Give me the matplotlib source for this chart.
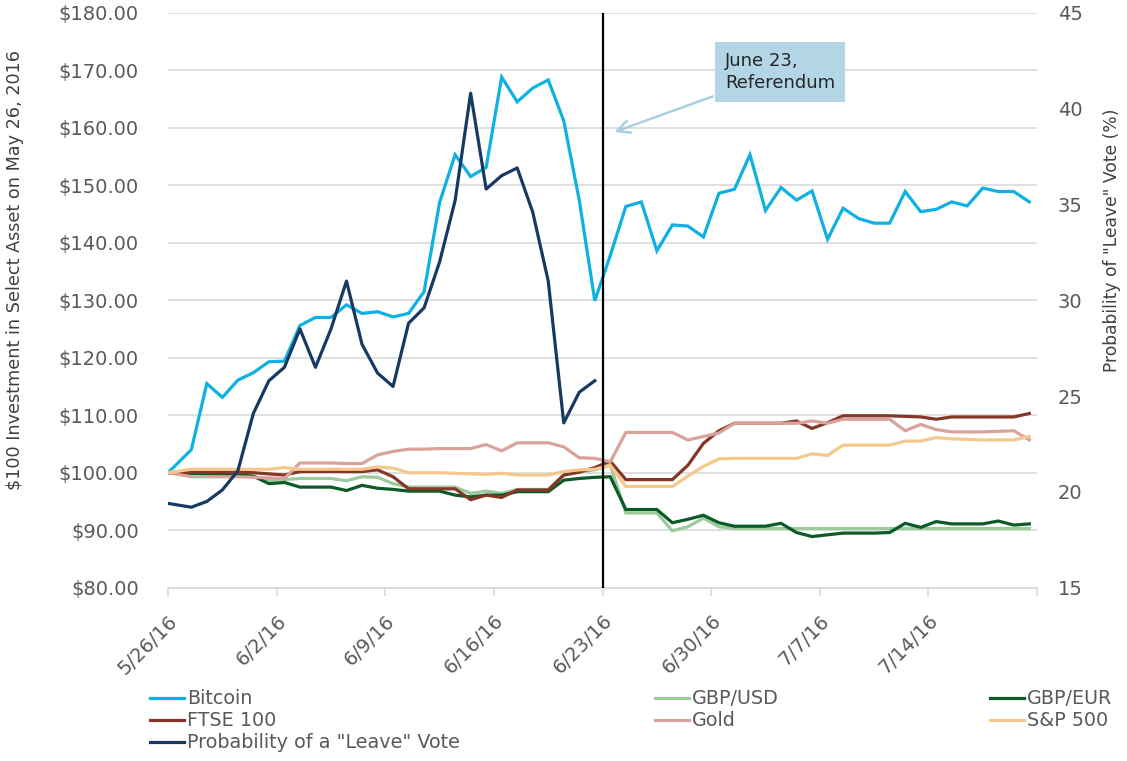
import numpy as np
import matplotlib
matplotlib.use('Agg')
import matplotlib.pyplot as plt

# x positions in days after 5/26/16 (first point on 5/26, then mid-day points)
days = np.array([0.0] + list(np.arange(1.5, 56.0, 1.0)))

tick_days = [0, 7, 14, 21, 28, 35, 42, 49, 56]
tick_labels = ['5/26/16', '6/2/16', '6/9/16', '6/16/16', '6/23/16',
               '6/30/16', '7/7/16', '7/14/16', '']

bitcoin = [100.0, 104.0, 115.5, 113.1, 116.1, 117.4, 119.3, 119.4, 125.6, 127.0,
           127.0, 129.2, 127.7, 128.0, 127.1, 127.7, 131.5, 147.0, 155.3, 151.5,
           153.1, 168.8, 164.5, 166.9, 168.3, 161.2, 147.4, 129.9, 137.8, 146.3,
           147.1, 138.6, 143.1, 142.9, 141.0, 148.6, 149.3, 155.3, 145.6, 149.6,
           147.4, 149.0, 140.6, 146.0, 144.2, 143.4, 143.4, 148.9, 145.4, 145.8,
           147.1, 146.4, 149.5, 148.9, 148.9, 147.1]

gbp_usd = [100.0, 99.9, 99.8, 99.7, 99.6, 99.4, 98.7, 98.8, 99.0, 99.0,
           99.0, 98.6, 99.3, 99.2, 98.1, 97.5, 97.5, 97.5, 97.5, 96.4,
           96.8, 96.4, 97.1, 97.1, 97.1, 99.6, 100.1, 100.5, 101.4, 93.0,
           93.0, 93.0, 89.9, 90.6, 92.1, 90.6, 90.3, 90.3, 90.3, 90.3,
           90.3, 90.3, 90.3, 90.3, 90.3, 90.3, 90.3, 90.3, 90.3, 90.3,
           90.3, 90.3, 90.3, 90.3, 90.3, 90.3]

gbp_eur = [100.0, 99.9, 99.8, 99.7, 99.6, 99.4, 98.1, 98.3, 97.5, 97.5,
           97.5, 96.9, 97.8, 97.3, 97.1, 96.8, 96.8, 96.8, 96.1, 95.8,
           96.1, 96.1, 96.7, 96.7, 96.7, 98.7, 99.0, 99.2, 99.3, 93.6,
           93.6, 93.6, 91.3, 91.9, 92.6, 91.3, 90.7, 90.7, 90.7, 91.2,
           89.6, 88.9, 89.2, 89.5, 89.5, 89.5, 89.6, 91.2, 90.5, 91.5,
           91.1, 91.1, 91.1, 91.6, 90.9, 91.1]

ftse = [100.0, 100.1, 100.1, 100.1, 100.1, 100.0, 99.8, 99.6, 100.2, 100.2,
        100.2, 100.2, 100.2, 100.5, 99.3, 97.2, 97.2, 97.2, 97.2, 95.3,
        96.1, 95.7, 97.0, 97.0, 97.0, 99.6, 100.1, 100.9, 102.0, 98.8,
        98.8, 98.8, 98.8, 101.3, 105.1, 107.3, 108.6, 108.6, 108.6, 108.6,
        109.0, 107.7, 108.7, 109.9, 109.9, 109.9, 109.9, 109.8, 109.7, 109.3,
        109.7, 109.7, 109.7, 109.7, 109.7, 110.3]

gold = [100.0, 99.3, 99.3, 99.3, 99.3, 99.2, 99.1, 99.0, 101.7, 101.7,
        101.7, 101.6, 101.6, 103.1, 103.7, 104.1, 104.1, 104.2, 104.2, 104.2,
        104.9, 103.8, 105.2, 105.2, 105.2, 104.5, 102.6, 102.5, 101.9, 107.0,
        107.0, 107.0, 107.0, 105.7, 106.3, 106.9, 108.6, 108.6, 108.6, 108.6,
        108.6, 109.0, 108.6, 109.3, 109.3, 109.3, 109.3, 107.3, 108.4, 107.5,
        107.1, 107.1, 107.1, 107.2, 107.3, 105.7]

sp500 = [100.0, 100.6, 100.6, 100.6, 100.6, 100.6, 100.6, 100.9, 100.6, 100.6,
         100.6, 100.6, 100.6, 101.0, 100.8, 100.0, 100.0, 100.0, 99.9, 99.8,
         99.7, 99.9, 99.6, 99.6, 99.6, 100.2, 100.5, 100.6, 101.3, 97.6,
         97.6, 97.6, 97.6, 99.4, 101.1, 102.4, 102.5, 102.5, 102.5, 102.5,
         102.5, 103.3, 103.0, 104.8, 104.8, 104.8, 104.8, 105.5, 105.5, 106.1,
         105.9, 105.8, 105.7, 105.7, 105.7, 106.3]

leave_prob = [19.4, 19.2, 19.5, 20.1, 21.1, 24.1, 25.8, 26.5, 28.5, 26.5,
              28.5, 31.0, 27.7, 26.2, 25.5, 28.8, 29.6, 32.0, 35.2, 40.8,
              35.8, 36.5, 36.9, 34.6, 31.0, 23.6, 25.2, 25.8]

series = [('Bitcoin', bitcoin, '#0fb0e2'),
          ('GBP/USD', gbp_usd, '#9cca9c'),
          ('GBP/EUR', gbp_eur, '#0b5a27'),
          ('FTSE 100', ftse, '#843728'),
          ('Gold', gold, '#d9a29b'),
          ('S&P 500', sp500, '#f5c78d')]

label_gray = '#595959'
grid_gray = '#d9d9d9'

fig = plt.figure(figsize=(11.27, 7.61), dpi=100)
ax = fig.add_axes([0.1491, 0.2277, 0.7711, 0.7556])

handles = {}
for name, vals, col in series:
    ln, = ax.plot(days, vals, color=col, lw=2.3, label=name, solid_joinstyle='miter')
    handles[name] = ln

ax.axvline(28, color='black', lw=1.6, zorder=5)

ax.set_xlim(0, 56)
ax.set_ylim(80, 180)
ax.set_yticks(np.arange(80, 181, 10))
ax.set_yticklabels(['${:.2f}'.format(v) for v in np.arange(80, 181, 10)])
ax.set_xticks(tick_days)
ax.set_xticklabels(tick_labels, rotation=45, ha='right', rotation_mode='anchor')
ax.tick_params(axis='y', length=0, pad=21, labelsize=14, labelcolor=label_gray)
ax.tick_params(axis='x', length=6, width=1.2, color=grid_gray, labelsize=14,
               labelcolor=label_gray, pad=11)
ax.yaxis.grid(True, color=grid_gray, lw=1.2)
ax.set_axisbelow(True)
for s in ['left', 'right', 'top']:
    ax.spines[s].set_visible(False)
ax.spines['bottom'].set_color(grid_gray)
ax.spines['bottom'].set_linewidth(1.2)
ax.set_ylabel('$100 Investment in Select Asset on May 26, 2016', fontsize=12.7,
              color='#404040')
ax.yaxis.set_label_coords(-0.166, 0.552)

ax2 = ax.twinx()
ln, = ax2.plot(days[:len(leave_prob)], leave_prob, color='#173a63', lw=2.3,
               label='Probability of a "Leave" Vote')
handles['Leave'] = ln
ax2.set_ylim(15, 45)
ax2.set_yticks(np.arange(15, 46, 5))
ax2.tick_params(axis='y', length=0, pad=15, labelsize=14, labelcolor=label_gray)
for s in ax2.spines.values():
    s.set_visible(False)
ax2.set_ylabel('Probability of "Leave" Vote (%)', fontsize=12.3, color='#404040')
ax2.yaxis.set_label_coords(1.076, 0.605)

ax.annotate('June 23,\nReferendum', xy=(28.6, 159.1), xytext=(35.9, 169.7),
            ha='left', va='center', fontsize=13, color='#262626', zorder=6,
            linespacing=1.3,
            bbox=dict(boxstyle='square,pad=0.55', fc='#b2d6e6', ec='none'),
            arrowprops=dict(arrowstyle='->,head_length=0.7,head_width=0.35',
                            color='#a8d0e2', lw=1.8))

cols = [(['Bitcoin', 'FTSE 100', 'Leave'], 0.133),
        (['GBP/USD', 'Gold'], 0.581),
        (['GBP/EUR', 'S&P 500'], 0.878)]
for names, xpos in cols:
    hs = [handles[n] for n in names]
    fig.legend(hs, [h.get_label() for h in hs], loc='upper left',
               bbox_to_anchor=(xpos, 0.094), frameon=False, fontsize=13.8,
               labelcolor=label_gray, handlelength=1.8, handletextpad=0.15,
               labelspacing=0.15, borderpad=0, borderaxespad=0)

fig.savefig('out.png', dpi=100)
